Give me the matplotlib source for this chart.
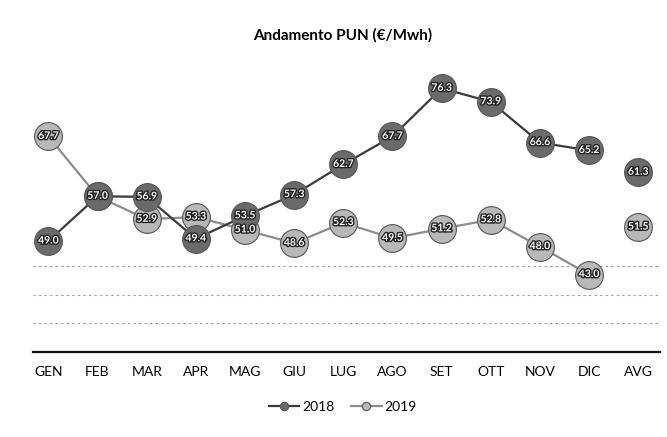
import numpy as np
import matplotlib
matplotlib.use("Agg")
import matplotlib.pyplot as plt
import matplotlib.patheffects as pe

plt.rcParams["font.family"] = ["Lato", "DejaVu Sans"]

months = ["GEN", "FEB", "MAR", "APR", "MAG", "GIU", "LUG", "AGO", "SET",
          "OTT", "NOV", "DIC", "AVG"]
pun_2018 = [49.0, 57.0, 56.9, 49.4, 53.5, 57.3, 62.7, 67.7, 76.3, 73.9, 66.6, 65.2]
avg_2018 = 61.3
pun_2019 = [67.7, 57.0, 52.9, 53.3, 51.0, 48.6, 52.3, 49.5, 51.2, 52.8, 48.0, 43.0]
avg_2019 = 51.5

STYLE = {
    "2018": ("#6a6a6a", "#3a3a3a"),
    "2019": ("#b8b8b8", "#8c8c8c"),
}

fig = plt.figure(figsize=(6.67, 4.37), dpi=100)
ax = fig.add_axes([0.049, 0.195, 0.941, 0.663])

x = np.arange(len(months))
halo = [pe.withStroke(linewidth=2.0, foreground="#222222")]

drawn = set()   # coincident points: label them once
for lab, vals, avg in (("2019", pun_2019, avg_2019), ("2018", pun_2018, avg_2018)):
    face, line = STYLE[lab]
    ax.plot(x[:12], vals, color=line, lw=1.6, marker="o", ms=20,
            mfc=face, mec="#555555", mew=0.8, label=lab,
            zorder=3 if lab == "2018" else 2.5)
    ax.plot(x[12], avg, marker="o", ms=20, mfc=face, mec="#555555",
            mew=0.8, ls="none", zorder=3)
    for xi, v in zip(x, list(vals) + [avg]):
        if (xi, v) in drawn:
            continue
        drawn.add((xi, v))
        ax.text(xi, v, f"{v:.1f}", ha="center", va="center", fontsize=7.5,
                fontweight="bold", color="white", path_effects=halo, zorder=4)

ax.set_xlim(-0.32, 12.45)
ax.set_ylim(29.2, 81)
ax.set_xticks(x)
ax.set_xticklabels(months, fontsize=10)
ax.set_yticks([34.3, 39.3, 44.5])
ax.tick_params(axis="y", left=False, labelleft=False)
ax.tick_params(axis="x", length=0, pad=10)
ax.grid(axis="y", color="#9a9a9a", ls=(0, (2, 3)), lw=0.8)
for s in ("top", "right", "left"):
    ax.spines[s].set_visible(False)
ax.spines["bottom"].set_linewidth(1.6)
ax.spines["bottom"].set_color("#111111")

fig.text(0.514, 0.92, "Andamento PUN (€/Mwh)", ha="center", va="center",
         fontsize=11, fontweight="bold")

handles, labels = ax.get_legend_handles_labels()
order = [labels.index("2018"), labels.index("2019")]
leg = fig.legend([handles[i] for i in order], [labels[i] for i in order],
                 loc="center", bbox_to_anchor=(0.514, 0.068),
                 ncol=2, frameon=False, fontsize=10, markerscale=0.3,
                 handlelength=2.2, columnspacing=1.2, handletextpad=0.2)

fig.savefig("out.png")
